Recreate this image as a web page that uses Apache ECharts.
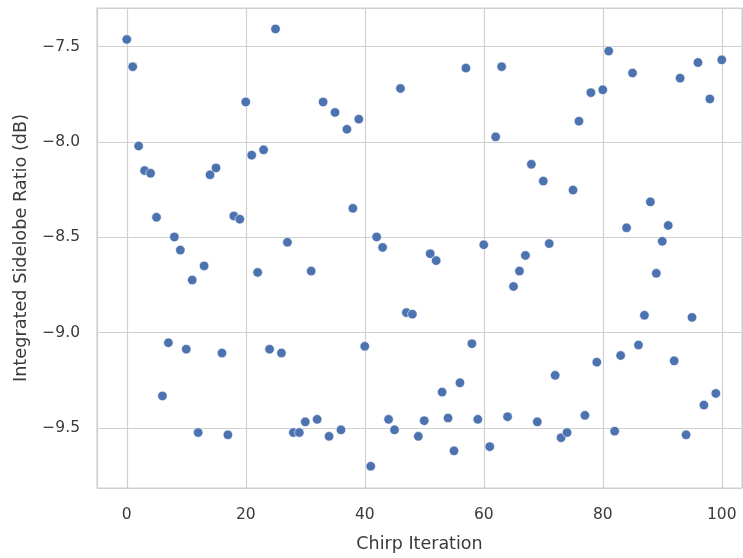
<!DOCTYPE html>
<html>
<head>
<meta charset="utf-8">
<script src="https://cdn.jsdelivr.net/npm/echarts@6/dist/echarts.min.js"></script>
<style>html,body{margin:0;padding:0;background:#fff}#c{width:743px;height:558px}</style>
</head>
<body>
<div id="c"></div>
<script>
const iterations = Array.from({length: 101}, (_, i) => i);
const islrValues = [
  -7.462, -7.605, -8.021, -8.150, -8.164, -8.395, -9.332, -9.053, -8.498, -8.567,
  -9.087, -8.724, -9.524, -8.650, -8.172, -8.136, -9.107, -9.536, -8.388, -8.405,
  -7.790, -8.069, -8.684, -8.041, -9.087, -7.407, -9.107, -8.526, -9.524, -9.524,
  -9.468, -8.677, -9.455, -7.790, -9.544, -7.845, -9.510, -7.933, -8.348, -7.880,
  -9.072, -9.701, -8.498, -8.553, -9.455, -9.510, -7.719, -8.895, -8.903, -9.544,
  -9.462, -8.586, -8.622, -9.312, -9.448, -9.620, -9.263, -7.612, -9.058, -9.455,
  -8.539, -9.598, -7.973, -7.605, -9.441, -8.758, -8.677, -8.595, -8.117, -9.468,
  -8.205, -8.533, -9.224, -9.551, -9.524, -8.252, -7.891, -9.434, -7.741, -9.155,
  -7.726, -7.523, -9.517, -9.120, -8.450, -7.638, -9.065, -8.909, -8.314, -8.689,
  -8.521, -8.438, -9.148, -7.665, -9.536, -8.920, -7.583, -9.380, -7.774, -9.319,
  -7.569
];
const xTicks = [0, 20, 40, 60, 80, 100];
const yTicks = [-9.5, -9.0, -8.5, -8.0, -7.5];

const FONT = 'DejaVu Sans';
const TXT = '#3a3a3a';
const GRID = '#d0d0d0';
const fmt = (v, d) => (v < 0 ? '\u2212' : '') + Math.abs(v).toFixed(d);

const chart = echarts.init(document.getElementById('c'), null, {renderer: 'canvas'});
chart.setOption({
  backgroundColor: '#ffffff',
  animation: false,
  grid: {left: 97, top: 8, right: 1, bottom: 63, show: true, borderColor: GRID, borderWidth: 1.2, containLabel: false},
  xAxis: {
    type: 'value', min: -5, max: 103.4, splitNumber: 5,
    name: 'Chirp Iteration', nameLocation: 'middle', nameGap: 47,
    nameTextStyle: {fontFamily: FONT, fontSize: 17.5, color: TXT},
    axisLine: {show: false}, axisTick: {show: false},
    axisLabel: {
      fontFamily: FONT, fontSize: 15.5, color: TXT, margin: 19,
      showMinLabel: false, showMaxLabel: false,
      formatter: v => xTicks.includes(v) ? fmt(v, 0) : ''
    },
    splitLine: {show: true, lineStyle: {color: GRID, width: 1.2}}
  },
  yAxis: {
    type: 'value', min: -9.815, max: -7.297, splitNumber: 5,
    name: 'Integrated Sidelobe Ratio (dB)', nameLocation: 'middle', nameGap: 67, nameRotate: 90,
    nameTextStyle: {fontFamily: FONT, fontSize: 17.7, color: TXT},
    axisLine: {show: false}, axisTick: {show: false},
    axisLabel: {
      fontFamily: FONT, fontSize: 15.5, color: TXT, margin: 17,
      showMinLabel: false, showMaxLabel: false,
      formatter: v => yTicks.some(t => Math.abs(t - v) < 1e-9) ? fmt(v, 1) : ''
    },
    splitLine: {show: true, lineStyle: {color: GRID, width: 1.2}}
  },
  series: [{
    type: 'scatter',
    data: iterations.map((x, i) => [x, islrValues[i]]),
    symbolSize: 9.5,
    itemStyle: {color: '#4c72b0', borderColor: '#ffffff', borderWidth: 0.6, opacity: 1}
  }]
});
</script>
</body>
</html>
